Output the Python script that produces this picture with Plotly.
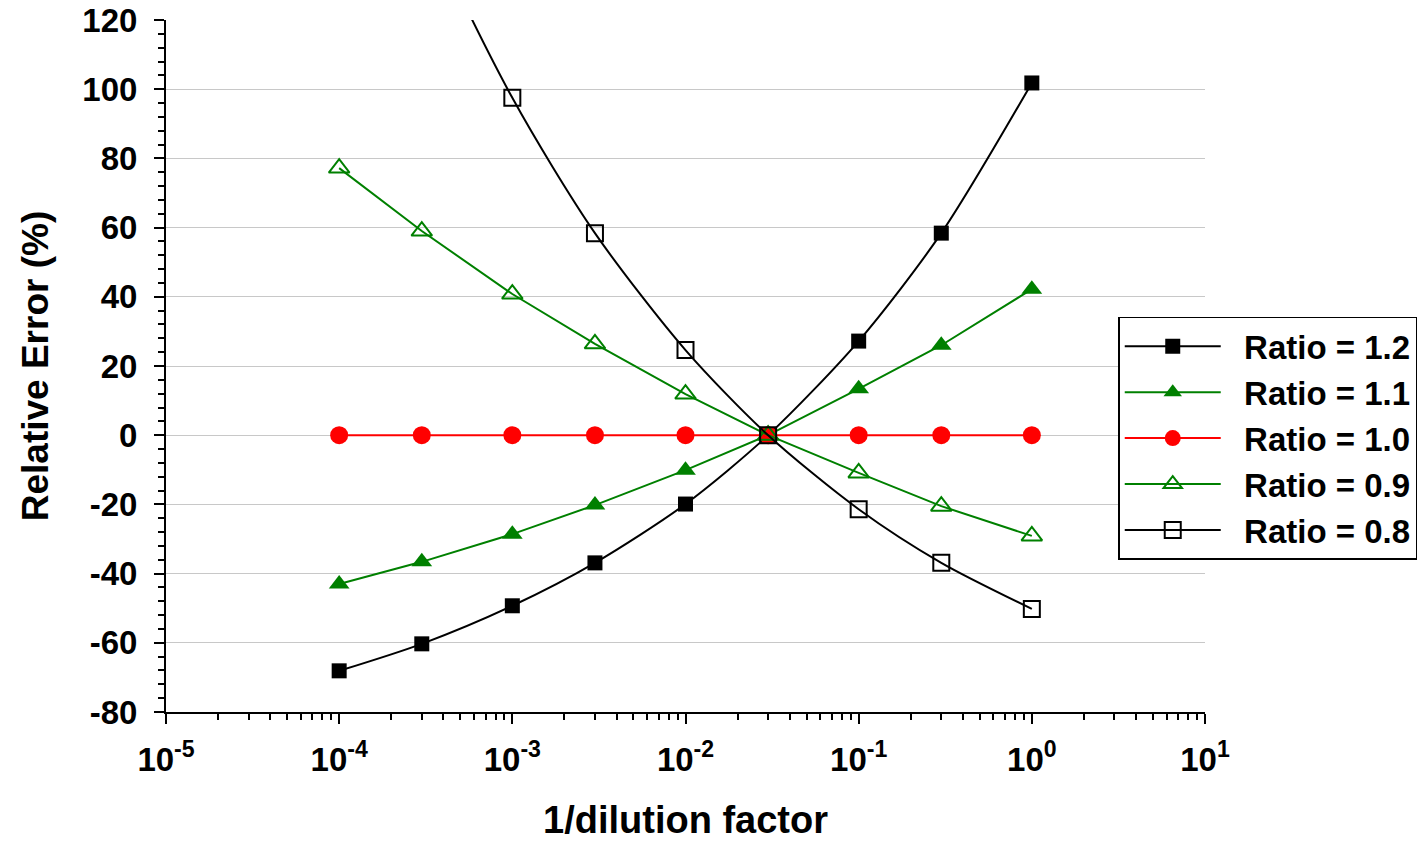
import plotly.graph_objects as go

# Data
x_vals = [1e-4, 3e-4, 1e-3, 3e-3, 1e-2, 3e-2, 1e-1, 3e-1, 1.0]
ratio_12 = [-68.1, -60.3, -49.3, -36.9, -19.9, 0.0, 27.2, 58.4, 101.8]
ratio_11 = [-43.0, -36.6, -28.6, -20.2, -10.1, 0.0, 13.4, 26.0, 42.2]
ratio_10 = [0.0, 0.0, 0.0, 0.0, 0.0, 0.0, 0.0, 0.0, 0.0]
ratio_09 = [77.2, 59.0, 40.8, 26.4, 11.9, 0.0, -10.9, -20.5, -29.1]
ratio_08 = [213.0, 151.0, 97.5, 58.4, 24.6, 0.0, -21.4, -36.9, -50.2]

series_names = ["Ratio = 1.2", "Ratio = 1.1", "Ratio = 1.0", "Ratio = 0.9", "Ratio = 0.8"]

x_tickvals = [1e-5, 1e-4, 1e-3, 1e-2, 1e-1, 1e0, 1e1]
x_ticktext = ["10<sup>-5</sup>", "10<sup>-4</sup>", "10<sup>-3</sup>", "10<sup>-2</sup>",
              "10<sup>-1</sup>", "10<sup>0</sup>", "10<sup>1</sup>"]
y_tickvals = [-80, -60, -40, -20, 0, 20, 40, 60, 80, 100, 120]
y_ticktext = ["-80", "-60", "-40", "-20", "0", "20", "40", "60", "80", "100", "120"]

GREEN = "#008000"
RED = "#ff0000"
BLACK = "#000000"
PAD = "\u00a0\u00a0"

fig = go.Figure()
fig.add_trace(go.Scatter(x=x_vals, y=ratio_12, name=PAD + series_names[0], mode="lines+markers",
                         line=dict(color=BLACK, width=2, shape="spline", smoothing=0.8),
                         marker=dict(symbol="square", size=15, color=BLACK)))
fig.add_trace(go.Scatter(x=x_vals, y=ratio_11, name=PAD + series_names[1], mode="lines+markers",
                         line=dict(color=GREEN, width=2),
                         marker=dict(symbol="triangle-up", size=18, color=GREEN)))
fig.add_trace(go.Scatter(x=x_vals, y=ratio_10, name=PAD + series_names[2], mode="lines+markers",
                         line=dict(color=RED, width=2),
                         marker=dict(symbol="circle", size=18, color=RED)))
fig.add_trace(go.Scatter(x=x_vals, y=ratio_09, name=PAD + series_names[3], mode="lines+markers",
                         line=dict(color=GREEN, width=2),
                         marker=dict(symbol="triangle-up-open", size=18, color=GREEN,
                                     line=dict(width=2, color=GREEN))))
fig.add_trace(go.Scatter(x=x_vals, y=ratio_08, name=PAD + series_names[4], mode="lines+markers",
                         line=dict(color=BLACK, width=2, shape="spline", smoothing=0.8),
                         marker=dict(symbol="square-open", size=16, color=BLACK,
                                     line=dict(width=2, color=BLACK))))

fig.update_layout(
    width=1424, height=841,
    margin=dict(l=166, r=219, t=20, b=129, autoexpand=False),
    paper_bgcolor="white", plot_bgcolor="white",
    font=dict(family="Liberation Sans, Arial, sans-serif", size=33, color="black", weight="bold"),
    showlegend=True,
    legend=dict(x=0.9165, y=0.571, xanchor="left", yanchor="top",
                bordercolor="black", borderwidth=1.5, bgcolor="white",
                font=dict(size=33, weight="bold"), itemwidth=96,
                tracegroupgap=0),
)

fig.update_xaxes(
    type="log", range=[-5, 1], automargin=False,
    tickvals=x_tickvals, ticktext=x_ticktext,
    showline=True, linecolor="black", linewidth=2,
    ticks="outside", ticklen=10, tickwidth=2, tickcolor="black",
    minor=dict(ticks="outside", ticklen=6, tickwidth=2, tickcolor="black", dtick="D1", showgrid=False),
    showgrid=False, zeroline=False,
    tickfont=dict(size=33, weight="bold"),
    ticklabelstandoff=7,
    title=dict(text="1/dilution factor", font=dict(size=38, weight="bold"), standoff=38),
)

fig.update_yaxes(
    range=[-80, 120], automargin=False,
    tickvals=y_tickvals, ticktext=y_ticktext,
    showline=True, linecolor="black", linewidth=2,
    ticks="outside", ticklen=10, tickwidth=2, tickcolor="black",
    minor=dict(ticks="outside", ticklen=6, tickwidth=2, tickcolor="black",
               tickvals=list(range(-80, 121, 4)), showgrid=False),
    showgrid=True, gridcolor="#c8c8c8", gridwidth=1,
    zeroline=False,
    tickfont=dict(size=33, weight="bold"),
    ticklabelstandoff=10,
    title=dict(text="Relative Error (%)", font=dict(size=37, weight="bold"), standoff=22),
)

fig.write_html("out.html")
